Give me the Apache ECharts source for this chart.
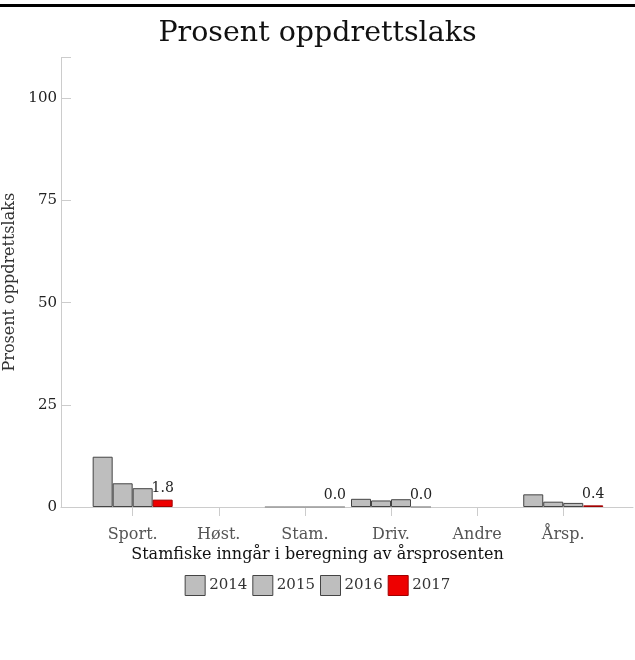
<!DOCTYPE html>
<html>
<head>
<meta charset="utf-8">
<script src="https://cdn.jsdelivr.net/npm/echarts@6/dist/echarts.min.js"></script>
<style>
html,body{margin:0;padding:0;background:#fff;}
#chart{width:635px;height:660px;}
</style>
</head>
<body>
<div id="chart"></div>
<script>
const categories = ['Sport.', 'Høst.', 'Stam.', 'Driv.', 'Andre', 'Årsp.'];
const years = ['2014', '2015', '2016', '2017'];
const v2014 = [12.3, null, 0, 2.0, null, 3.1];
const v2015 = [5.8, null, 0, 1.6, null, 1.3];
const v2016 = [4.6, null, 0, 1.9, null, 1.0];
const v2017 = [1.8, null, 0.0, 0.0, null, 0.4];
const yTicks = [0, 25, 50, 75, 100];

const FONT = 'DejaVu Serif';
const seriesValues = [v2014, v2015, v2016, v2017];
const fills = ['#bebebe', '#bebebe', '#bebebe', '#ee0000'];
const borders = ['#444', '#444', '#444', '#a00000'];

const chart = echarts.init(document.getElementById('chart'), null, {renderer: 'canvas'});

const gridTop = 57.4, gridBottom = 153;

const series = years.map((y, i) => ({
  name: y,
  type: 'bar',
  xAxisIndex: 1,
  yAxisIndex: 1,
  barWidth: 20,
  barGap: '0%',
  itemStyle: {color: fills[i], borderColor: borders[i], borderWidth: 1},
  data: seriesValues[i].map(v => (v === 0 ? {value: v, itemStyle: {borderColor: '#999'}} : v)),
  label: i === 3 ? {
    show: true,
    position: 'top',
    distance: 4,
    fontFamily: FONT,
    fontSize: 14,
    color: '#222',
    formatter: p => (p.value == null ? '' : Number(p.value).toFixed(1))
  } : {show: false}
}));

chart.setOption({
  animation: false,
  backgroundColor: '#fff',
  graphic: [{
    type: 'rect', left: 0, top: 4,
    shape: {width: 635, height: 3},
    style: {fill: '#000'}
  }],
  title: [{
    text: 'Prosent oppdrettslaks',
    left: 'center', top: 14,
    textStyle: {fontFamily: FONT, fontSize: 28.5, fontWeight: 'normal', color: '#111'}
  }, {
    text: 'Stamfiske inngår i beregning av årsprosenten',
    left: 'center', top: 542,
    textStyle: {fontFamily: FONT, fontSize: 16, fontWeight: 'normal', color: '#111'}
  }],
  legend: {
    data: years,
    left: 'center', top: 570,
    itemWidth: 20, itemHeight: 20, itemGap: 5,
    icon: 'rect',
    textStyle: {fontFamily: FONT, fontSize: 15, color: '#333', padding: [0, 0, 0, -1]},
    itemStyle: {borderWidth: 1}
  },
  grid: [
    {left: 61, right: 2, top: gridTop, bottom: gridBottom, containLabel: false, outerBoundsMode: 'none'},
    {left: 89.6, right: 28.7, top: gridTop, bottom: gridBottom, containLabel: false, outerBoundsMode: 'none'}
  ],
  xAxis: [{
    type: 'value', gridIndex: 0, min: 0, max: 1, offset: 3,
    axisLine: {show: true, lineStyle: {color: '#ccc', width: 1}},
    axisTick: {show: false}, axisLabel: {show: false}, splitLine: {show: false}
  }, {
    type: 'category', gridIndex: 1, data: categories, offset: 3,
    boundaryGap: true,
    axisLine: {show: false},
    axisTick: {show: true, alignWithLabel: true, length: 9, lineStyle: {color: '#ccc'}},
    axisLabel: {fontFamily: FONT, fontSize: 16, color: '#555', margin: 17},
    splitLine: {show: false}
  }],
  yAxis: [{
    type: 'value', gridIndex: 0, min: 0, max: 110, interval: 25,
    name: 'Prosent oppdrettslaks',
    nameLocation: 'middle', nameGap: 36,
    nameTextStyle: {fontFamily: FONT, fontSize: 16, color: '#333'},
    axisLine: {show: true, lineStyle: {color: '#ccc', width: 1}},
    axisTick: {show: true, inside: true, length: 10, lineStyle: {color: '#ccc'}},
    axisLabel: {
      fontFamily: FONT, fontSize: 15, color: '#222', margin: 4,
      formatter: v => (yTicks.indexOf(v) >= 0 ? String(v) : '')
    },
    splitLine: {show: false}
  }, {
    type: 'value', gridIndex: 1, min: 0, max: 110, interval: 25, show: false
  }],
  series: series
});
</script>
</body>
</html>
